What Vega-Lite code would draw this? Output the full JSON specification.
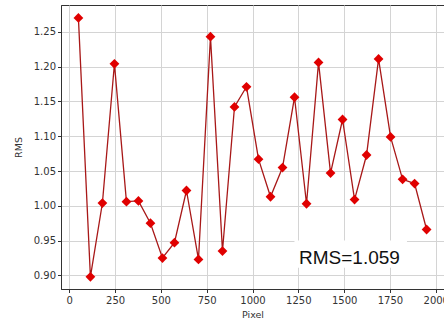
{
  "$schema": "https://vega.github.io/schema/vega-lite/v6.json",
  "width": 383,
  "height": 284,
  "autosize": {"type": "none"},
  "padding": {"left": 61, "top": 5, "right": 0, "bottom": 37},
  "background": "white",
  "config": {
    "view": {"stroke": "#333333", "strokeWidth": 1},
    "axis": {
      "domainColor": "#333333",
      "tickColor": "#333333",
      "tickSize": 3.5,
      "gridColor": "#d4d4d4",
      "gridWidth": 1,
      "labelFont": "DejaVu Sans",
      "labelFontSize": 10,
      "labelColor": "#333333",
      "titleFont": "DejaVu Sans",
      "titleFontSize": 9.5,
      "titleFontWeight": "normal",
      "titleColor": "#333333"
    }
  },
  "datasets": {
    "rms": [
      {"pixel": 50, "rms": 1.270},
      {"pixel": 115.5, "rms": 0.898},
      {"pixel": 181, "rms": 1.004},
      {"pixel": 246.6, "rms": 1.204},
      {"pixel": 312.1, "rms": 1.006},
      {"pixel": 377.6, "rms": 1.007},
      {"pixel": 443.1, "rms": 0.975},
      {"pixel": 508.6, "rms": 0.925},
      {"pixel": 574.1, "rms": 0.947},
      {"pixel": 639.7, "rms": 1.022},
      {"pixel": 705.2, "rms": 0.923},
      {"pixel": 770.7, "rms": 1.243},
      {"pixel": 836.2, "rms": 0.935},
      {"pixel": 901.7, "rms": 1.142},
      {"pixel": 967.2, "rms": 1.171},
      {"pixel": 1032.8, "rms": 1.067},
      {"pixel": 1098.3, "rms": 1.013},
      {"pixel": 1163.8, "rms": 1.055},
      {"pixel": 1229.3, "rms": 1.156},
      {"pixel": 1294.8, "rms": 1.003},
      {"pixel": 1360.3, "rms": 1.206},
      {"pixel": 1425.9, "rms": 1.047},
      {"pixel": 1491.4, "rms": 1.124},
      {"pixel": 1556.9, "rms": 1.009},
      {"pixel": 1622.4, "rms": 1.073},
      {"pixel": 1687.9, "rms": 1.211},
      {"pixel": 1753.4, "rms": 1.099},
      {"pixel": 1819, "rms": 1.038},
      {"pixel": 1884.5, "rms": 1.032},
      {"pixel": 1950, "rms": 0.966}
    ],
    "label": [
      {"x": 1229, "x2": 1843, "y": 0.9503, "y2": 0.911, "tx": 1254, "ty": 0.9163, "text": "RMS=1.059"}
    ]
  },
  "layer": [
    {
      "data": {"name": "rms"},
      "mark": {"type": "line", "color": "#a81818", "strokeWidth": 1.3},
      "encoding": {
        "x": {
          "field": "pixel", "type": "quantitative", "title": "Pixel",
          "scale": {"domain": [-45, 2045], "nice": false, "zero": false},
          "axis": {"values": [0, 250, 500, 750, 1000, 1250, 1500, 1750, 2000], "format": "d", "labelPadding": 3, "titlePadding": 4}
        },
        "y": {
          "field": "rms", "type": "quantitative", "title": "RMS",
          "scale": {"domain": [0.8805, 1.2885], "nice": false, "zero": false},
          "axis": {"values": [0.9, 0.95, 1.0, 1.05, 1.1, 1.15, 1.2, 1.25], "format": ".2f", "labelPadding": 2, "titlePadding": 10}
        }
      }
    },
    {
      "data": {"name": "rms"},
      "mark": {"type": "point", "shape": "square", "angle": 45, "filled": true, "color": "#e00000", "opacity": 1, "size": 48},
      "encoding": {
        "x": {"field": "pixel", "type": "quantitative"},
        "y": {"field": "rms", "type": "quantitative"}
      }
    },
    {
      "data": {"name": "label"},
      "mark": {"type": "rect", "color": "white", "opacity": 1},
      "encoding": {
        "x": {"field": "x", "type": "quantitative"},
        "x2": {"field": "x2"},
        "y": {"field": "y", "type": "quantitative"},
        "y2": {"field": "y2"}
      }
    },
    {
      "data": {"name": "label"},
      "mark": {"type": "text", "font": "Liberation Sans", "fontSize": 19, "color": "#111111", "align": "left", "baseline": "alphabetic"},
      "encoding": {
        "x": {"field": "tx", "type": "quantitative"},
        "y": {"field": "ty", "type": "quantitative"},
        "text": {"field": "text"}
      }
    }
  ]
}
